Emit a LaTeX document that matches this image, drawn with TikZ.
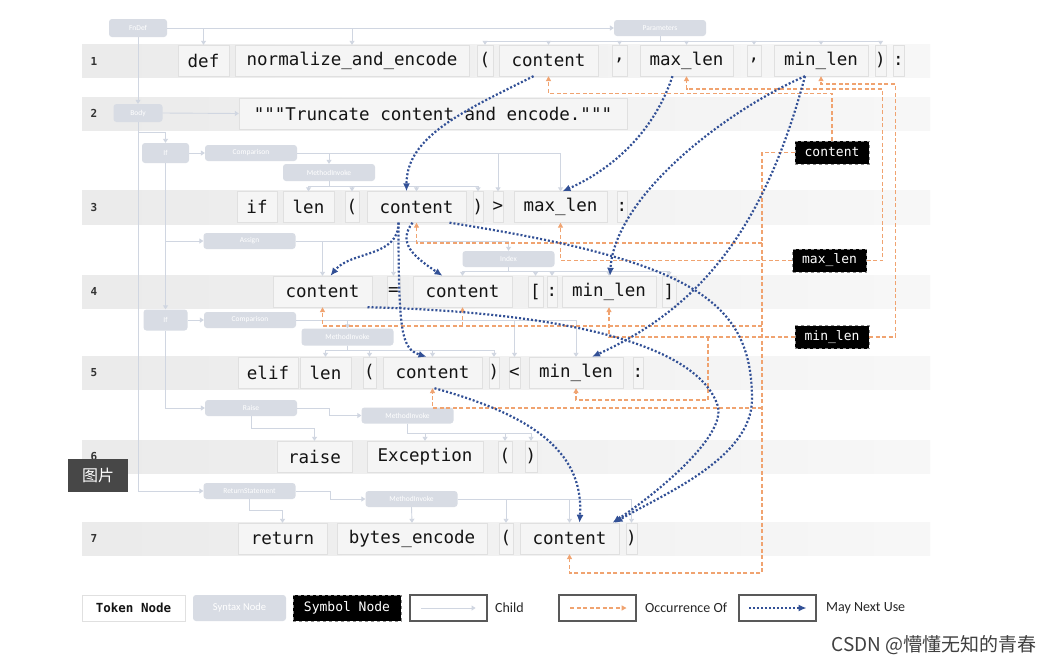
\documentclass[tikz,border=0pt]{standalone}
\usepackage{fontspec}
\setmonofont{DejaVu Sans Mono}
\setsansfont{Carlito}
\newfontfamily\cjkfont{Noto Sans CJK SC}
\usetikzlibrary{arrows.meta,positioning}

\definecolor{childc}{RGB}{208,214,225}
\definecolor{synfill}{RGB}{216,220,228}
\definecolor{occc}{RGB}{240,163,112}
\definecolor{nextc}{RGB}{50,80,150}
\definecolor{tokfill}{RGB}{245,245,245}
\definecolor{tokline}{RGB}{224,224,224}

\tikzset{
  rowband/.style={left color=black!8,right color=black!3},
  tok/.style={draw=tokline,fill=tokfill,font=\ttfamily\fontsize{17.5}{20}\selectfont,text=black!92,minimum height=31,inner xsep=0,inner ysep=0},
  syn/.style={fill=synfill,rounded corners=3,text=white,font=\sffamily\fontsize{7.5}{8}\selectfont,minimum width=92,minimum height=16,inner sep=0},
  sym/.style={fill=black,draw=black!45,dashed,text=white,font=\ttfamily\fontsize{13}{14}\selectfont,minimum width=74,minimum height=23,inner sep=0},
  rowno/.style={font=\ttfamily\bfseries\fontsize{11}{12}\selectfont,text=black!80},
  childedge/.style={draw=childc,line width=0.9pt,-{Triangle[length=4pt,width=5pt]}},
  occedge/.style={draw=occc,line width=1.2pt,dash pattern=on 4pt off 2.5pt,-{Triangle[length=5pt,width=5pt]}},
  nextuse/.style={draw=nextc,line width=2.2pt,dash pattern=on 2pt off 2pt,-{Latex[length=8pt,width=7pt]}},
  legbox/.style={draw=black!65,line width=1.1pt,minimum width=77,minimum height=26},
  legtxt/.style={font=\sffamily\fontsize{14}{16}\selectfont,text=black!85},
}

\begin{document}
\begin{tikzpicture}[x=1pt,y=-1pt]
  \useasboundingbox[fill=white] (0,0) rectangle (1056,664);

  % code rows
  \path[rowband] (82,44) rectangle (930,77);
  \path[rowband] (82,97) rectangle (930,130);
  \path[rowband] (82,190) rectangle (930,224);
  \path[rowband] (82,275) rectangle (930,308);
  \path[rowband] (82,356) rectangle (930,389);
  \path[rowband] (82,440) rectangle (930,473);
  \path[rowband] (82,522) rectangle (930,555);
  \node[rowno] (no1) at (94,61) {1};
  \node[rowno] (no2) at (94,113.5) {2};
  \node[rowno] (no3) at (94,207) {3};
  \node[rowno] (no4) at (94,291.5) {4};
  \node[rowno] (no5) at (94,372.5) {5};
  \node[rowno] (no6) at (94,456.5) {6};
  \node[rowno] (no7) at (94,538.5) {7};

  % syntax nodes
  \node[syn,minimum width=58,minimum height=18] (fndef) at (138,28) {FnDef};
  \node[syn] (params) at (660,28) {Parameters};
  \node[syn,minimum width=49,minimum height=18] (body) at (138,113) {Body};
  \node[syn,minimum width=47,minimum height=20] (if1) at (165.5,153) {If};
  \node[syn] (cmp1) at (251,153) {Comparison};
  \node[syn,minimum height=17] (mi1) at (329,172.5) {MethodInvoke};
  \node[syn] (assign) at (249.5,241) {Assign};
  \node[syn] (index) at (508.5,259) {Index};
  \node[syn,minimum width=44,minimum height=21] (if2) at (165.5,320) {If};
  \node[syn] (cmp2) at (250,320) {Comparison};
  \node[syn,minimum height=17] (mi2) at (347.5,337) {MethodInvoke};
  \node[syn] (raise) at (251,408) {Raise};
  \node[syn] (mi3) at (407.5,415.5) {MethodInvoke};
  \node[syn] (retst) at (249.5,491) {ReturnStatement};
  \node[syn] (mi4) at (411.5,499) {MethodInvoke};

  % tokens
  \node[tok,minimum width=51] (def) at (203.5,60.5) {def};
  \node[tok,minimum width=234] (fname) at (352,60.5) {normalize\_and\_encode};
  \node[tok,minimum width=16] (lp1) at (485,60.5) {(};
  \node[tok,minimum width=99] (pc) at (548.5,60.5) {content};
  \node[tok,minimum width=15] (cm1) at (619.5,60.5) {,};
  \node[tok,minimum width=93] (pm) at (686.5,60.5) {max\_len};
  \node[tok,minimum width=14] (cm2) at (754,60.5) {,};
  \node[tok,minimum width=94] (pn) at (821,60.5) {min\_len};
  \node[tok,minimum width=11] (rp1) at (880.5,60.5) {)};
  \node[tok,minimum width=11] (col1) at (898.5,60.5) {:};

  \node[tok,minimum width=388] (doc) at (433,113.5) {"""Truncate content and encode."""};

  \node[tok,minimum width=40] (if3) at (257,207) {if};
  \node[tok,minimum width=51] (len3) at (308.5,207) {len};
  \node[tok,minimum width=14] (lp3) at (352,207) {(};
  \node[tok,minimum width=99] (c3) at (416.5,207) {content};
  \node[tok,minimum width=10] (rp3) at (478,207) {)};
  \node[tok,minimum width=10] (gt3) at (498,207) {>};
  \node[tok,minimum width=93] (m3) at (560.5,207) {max\_len};
  \node[tok,minimum width=9] (col3) at (622,207) {:};

  \node[tok,minimum width=99] (c4a) at (322.5,291.5) {content};
  \node[tok,minimum width=13] (eq4) at (393.5,291.5) {=};
  \node[tok,minimum width=99] (c4b) at (462.5,291.5) {content};
  \node[tok,minimum width=15] (lb4) at (535.5,291.5) {[};
  \node[tok,minimum width=10] (col4) at (552,291.5) {:};
  \node[tok,minimum width=94] (n4) at (609,291.5) {min\_len};
  \node[tok,minimum width=14] (rb4) at (669,291.5) {]};

  \node[tok,minimum width=60] (elif5) at (268,372.5) {elif};
  \node[tok,minimum width=51] (len5) at (325.5,372.5) {len};
  \node[tok,minimum width=13] (lp5) at (369.5,372.5) {(};
  \node[tok,minimum width=99] (c5) at (432.5,372.5) {content};
  \node[tok,minimum width=10] (rp5) at (494,372.5) {)};
  \node[tok,minimum width=9] (lt5) at (514.5,372.5) {<};
  \node[tok,minimum width=94] (n5) at (576,372.5) {min\_len};
  \node[tok,minimum width=10] (col5) at (638,372.5) {:};

  \node[tok,minimum width=75] (raise6) at (314.5,456.5) {raise};
  \node[tok,minimum width=116] (exc6) at (425,456.5) {Exception};
  \node[tok,minimum width=14] (lp6) at (505,456.5) {(};
  \node[tok,minimum width=12] (rp6) at (531,456.5) {)};

  \node[tok,minimum width=89] (ret7) at (282.5,538.5) {return};
  \node[tok,minimum width=150] (benc7) at (412,538.5) {bytes\_encode};
  \node[tok,minimum width=14] (lp7) at (506,538.5) {(};
  \node[tok,minimum width=99] (c7) at (569.5,538.5) {content};
  \node[tok,minimum width=11] (rp7) at (631.5,538.5) {)};

  % symbols
  \node[sym] (symc) at (832,152.5) {content};
  \node[sym] (symm) at (829.5,260.5) {max\_len};
  \node[sym] (symn) at (832,337) {min\_len};

  % child edges
  \draw[childedge] (fndef.east) -- (params.west);
  \draw[childedge] (fndef.east) -| (def.north);
  \draw[childedge] (fndef.east) -| (fname.north);
  \draw[childedge] (fndef.south) -- (body.north);
  \foreach \t in {lp1,pc,cm1,pm,cm2,pn,rp1}
    \draw[childedge] (params.south) -- ++(0,5) -| (\t.north);
  \draw[childedge] (body.east) -- (doc.west);
  \draw[childedge] (body.south) -- ++(0,10) -| (if1.north);
  \draw[childedge] (body.south) |- (retst.west);
  \draw[childedge] (if1.east) -- (cmp1.west);
  \foreach \t in {mi1,gt3,m3}
    \draw[childedge] (cmp1.east) -| (\t.north);
  \foreach \t in {len3,lp3,c3,rp3}
    \draw[childedge] (mi1.south) -- ++(0,5) -| (\t.north);
  \draw[childedge] (if1.south) |- (assign.west);
  \draw[childedge] (if1.south) -- (if2.north);
  \foreach \t in {c4a,eq4,index}
    \draw[childedge] (assign.east) -| (\t.north);
  \foreach \t in {c4b,lb4,col4,n4,rb4}
    \draw[childedge] (index.south) -- ++(0,4) -| (\t.north);
  \draw[childedge] (if2.east) -- (cmp2.west);
  \foreach \t in {mi2,lt5,n5}
    \draw[childedge] (cmp2.east) -| (\t.north);
  \foreach \t in {len5,lp5,c5,rp5}
    \draw[childedge] (mi2.south) -- ++(0,5) -| (\t.north);
  \draw[childedge] (if2.south) |- (raise.west);
  \draw[childedge] (raise.south) -- ++(0,12) -| (raise6.north);
  \draw[childedge] (raise.east) -- ++(32,0) |- (mi3.west);
  \foreach \t in {exc6,lp6,rp6}
    \draw[childedge] (mi3.south) -- ++(0,10) -| (\t.north);
  \draw[childedge] (retst.south) -- ++(0,11) -| (ret7.north);
  \draw[childedge] (retst.east) -- ++(35,0) |- (mi4.west);
  \draw[childedge] (mi4.south) -- (benc7.north);
  \foreach \t in {lp7,c7,rp7}
    \draw[childedge] (mi4.east) -| (\t.north);

  % occurrence edges
  \coordinate (ck3) at (762,243);
  \coordinate (ck4) at (762,326);
  \coordinate (ck5) at (762,408);
  \coordinate (ck7) at (762,573);
  \coordinate (nk) at (708,337);
  \draw[occedge] (symc.north) -- ++(0,-47) -| (pc.south);
  \draw[occedge] (symc.west) -| (ck7) -| (c7.south);
  \draw[occedge] (ck3) -| (c3.south);
  \draw[occedge] (ck4) -| (c4a.south);
  \draw[occedge] (c4b.south |- ck4) -- (c4b.south);
  \draw[occedge] (ck5) -| (c5.south);
  \draw[occedge] (symm.east) -| ++(16,-171.5) -| (pm.south);
  \draw[occedge] (symm.west) -| (m3.south);
  \draw[occedge] (symn.east) -| ++(26,-253) -| (pn.south);
  \draw[occedge] (symn.west) -| (n4.south);
  \draw[occedge] (nk) -- ++(0,63) -| (n5.south);

  % may next use
  \draw[nextuse] ([xshift=-15]pc.south) .. controls +(-70,35) and +(0,-55) .. ([xshift=-10]c3.north);
  \draw[nextuse] ([xshift=-14]pm.south) .. controls +(-20,60) and +(45,-20) .. ([xshift=2]m3.north);
  \draw[nextuse] ([xshift=-16]pn.south) .. controls +(-80,35) and +(5,-80) .. ([xshift=1]n4.north);
  \draw[nextuse] ([xshift=-16]pn.south) .. controls +(-40,150) and +(110,-50) .. ([xshift=16]n5.north);
  \draw[nextuse] ([xshift=-4]c3.south) .. controls +(-15,20) and +(-30,-20) .. ([xshift=-20]c4b.north);
  \draw[nextuse] ([xshift=-18]c3.south) .. controls +(0,110) and +(-25,-8) .. ([xshift=-6]c5.north);
  \draw[nextuse] ([xshift=-18]c3.south) .. controls +(0,35) and +(20,-25) .. ([xshift=8]c4a.north);
  \draw[nextuse] ([xshift=33]c3.south) .. controls +(240,38) and +(0,-100) .. ++(302.5,176.5)
    .. controls +(0,60) and +(45,-27) .. ([xshift=45]c7.north);
  \draw[nextuse] ([xshift=45]c4a.south) .. controls +(200,5) and +(-20,-60) .. ++(350,98)
    .. controls +(10,30) and +(45,-30) .. ([xshift=43]c7.north);
  \draw[nextuse] ([xshift=2]c5.south) .. controls +(90,25) and +(5,-75) .. ([xshift=10]c7.north);

  % legend
  \node[tok,font=\ttfamily\bfseries\fontsize{12.5}{14}\selectfont,fill=white,minimum width=103,minimum height=26] (lgtok) at (133.5,608) {Token Node};
  \node[syn,font=\sffamily\fontsize{10.5}{12}\selectfont,minimum width=93,minimum height=26] (lgsyn) at (239.5,608) {Syntax Node};
  \node[sym,minimum width=108,minimum height=26] (lgsym) at (347,608) {Symbol Node};
  \node[legbox] (lgchild) at (448.5,608) {};
  \draw[childedge] ([xshift=12]lgchild.west) -- ([xshift=-12]lgchild.east);
  \node[legtxt,right=4pt of lgchild] (lgchildt) {Child};
  \node[legbox] (lgocc) at (597.5,608) {};
  \draw[occedge] ([xshift=12]lgocc.west) -- ([xshift=-10]lgocc.east);
  \node[legtxt,right=5pt of lgocc] (lgocct) {Occurrence Of};
  \node[legbox] (lgnext) at (777.5,608) {};
  \draw[nextuse,line width=1.8pt] ([xshift=11]lgnext.west) -- ([xshift=-10]lgnext.east);
  \node[legtxt,right=6pt of lgnext] (lgnextt) {May Next Use};

  % page overlays
  \node[font=\cjkfont\fontsize{19}{20}\selectfont,text=black!75,anchor=east] (wm) at (1040,645) {CSDN @懵懂无知的青春};
  \node[fill=black!72,text=white,font=\cjkfont\fontsize{16}{18}\selectfont,minimum width=60,minimum height=33,inner sep=0] (tip) at (98,475.5) {图片};
\end{tikzpicture}
\end{document}
